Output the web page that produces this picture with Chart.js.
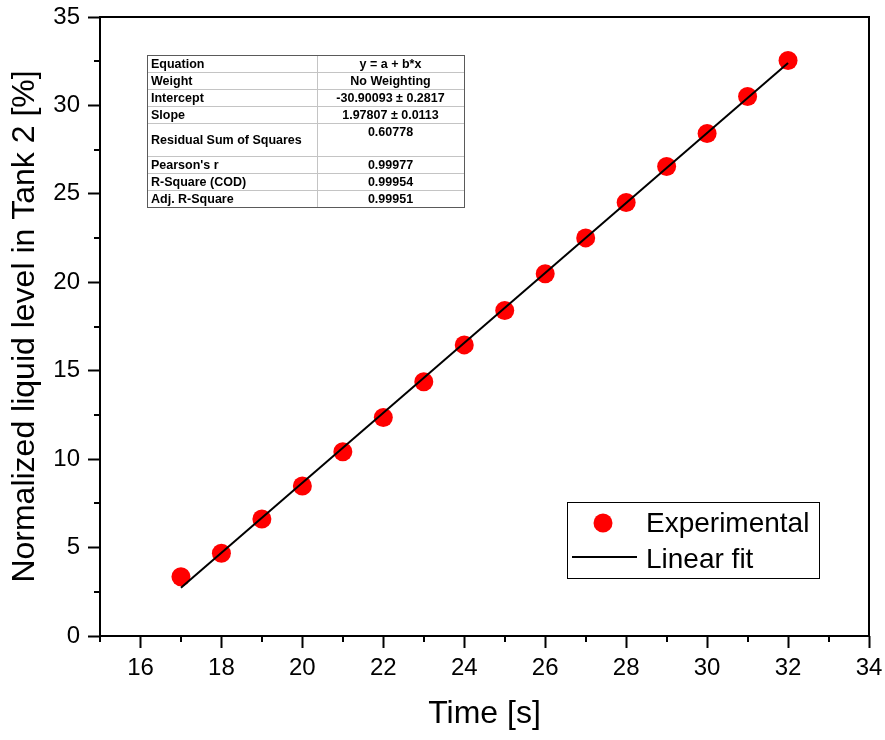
<!DOCTYPE html>
<html>
<head>
<meta charset="utf-8">
<script src="https://cdn.jsdelivr.net/npm/chart.js@4/dist/chart.umd.min.js"></script>
<style>
  html, body { margin: 0; padding: 0; background: #fff; }
  canvas { display: block; }
</style>
</head>
<body>
<canvas id="c" width="885" height="740"></canvas>
<script>
// Measured tank level over time
const timeS = [17, 18, 19, 20, 21, 22, 23, 24, 25, 26, 27, 28, 29, 30, 31, 32];
const levelPct = [3.35, 4.68, 6.62, 8.48, 10.42, 12.35, 14.38, 16.46, 18.40, 20.48, 22.51, 24.51, 26.55, 28.41, 30.50, 32.54];

// Linear fit result (y = a + b*x) and the span it is drawn over
const fitIntercept = -30.90093;
const fitSlope = 1.97807;
const fitRange = [17, 32];

// Axis ticks
const xMajorTicks = [16, 18, 20, 22, 24, 26, 28, 30, 32, 34];
const xMinorTicks = [15, 17, 19, 21, 23, 25, 27, 29, 31, 33];
const yMajorTicks = [0, 5, 10, 15, 20, 25, 30, 35];
const yMinorTicks = [2.5, 7.5, 12.5, 17.5, 22.5, 27.5, 32.5];

// Fit statistics table
const statNames = ['Equation', 'Weight', 'Intercept', 'Slope', 'Residual Sum of Squares',
                   "Pearson's r", 'R-Square (COD)', 'Adj. R-Square'];
const statValues = ['y = a + b*x', 'No Weighting', '-30.90093 \u00b1 0.2817', '1.97807 \u00b1 0.0113',
                    '0.60778', '0.99977', '0.99954', '0.99951'];

const FONT = "'Liberation Sans', Arial, Helvetica, sans-serif";

// keep the plot area exactly where the layout padding puts it
const noScalePadding = s => { s.paddingLeft = 0; s.paddingRight = 0; s.paddingTop = 0; s.paddingBottom = 0; };

const decorations = {
  id: 'decorations',
  afterDraw(chart) {
    const { ctx, chartArea: a, scales: { x, y } } = chart;
    ctx.save();

    // minor ticks
    ctx.strokeStyle = '#000';
    ctx.lineWidth = 2;
    ctx.beginPath();
    xMinorTicks.forEach(v => {
      const px = Math.round(x.getPixelForValue(v));
      ctx.moveTo(px, a.bottom); ctx.lineTo(px, a.bottom + 6);
    });
    yMinorTicks.forEach(v => {
      const py = Math.round(y.getPixelForValue(v));
      ctx.moveTo(a.left, py); ctx.lineTo(a.left - 6, py);
    });
    ctx.stroke();

    // plot frame
    ctx.strokeRect(a.left, a.top, a.right - a.left, a.bottom - a.top);

    // statistics table
    const tx = a.left + 47, ty = a.top + 38, tw = 317, colX = tx + 170;
    const rowH = statNames.map(n => n.startsWith('Residual') ? 33 : 17);
    const th = rowH.reduce((s, h) => s + h, 0);
    ctx.fillStyle = '#fff';
    ctx.fillRect(tx, ty, tw, th);
    ctx.lineWidth = 1;
    ctx.strokeStyle = '#c4c4c4';
    ctx.beginPath();
    let yy = ty;
    rowH.forEach((h, i) => {
      if (i > 0) { ctx.moveTo(tx, Math.round(yy) + 0.5); ctx.lineTo(tx + tw, Math.round(yy) + 0.5); }
      yy += h;
    });
    ctx.moveTo(colX + 0.5, ty); ctx.lineTo(colX + 0.5, ty + th);
    ctx.stroke();
    ctx.strokeStyle = '#5a5a5a';
    ctx.strokeRect(tx + 0.5, ty + 0.5, tw, th);

    ctx.fillStyle = '#000';
    ctx.font = `bold 12.5px ${FONT}`;
    ctx.textBaseline = 'middle';
    yy = ty;
    rowH.forEach((h, i) => {
      ctx.textAlign = 'left';
      ctx.fillText(statNames[i], tx + 4, yy + h / 2 + 1);
      ctx.textAlign = 'center';
      ctx.fillText(statValues[i], (colX + tx + tw) / 2, yy + 9.5);
      yy += h;
    });

    // legend
    const lx = a.right - 302, ly = a.bottom - 134, lw = 252, lh = 76;
    ctx.fillStyle = '#fff';
    ctx.fillRect(lx, ly, lw, lh);
    ctx.strokeStyle = '#000';
    ctx.lineWidth = 1;
    ctx.strokeRect(lx + 0.5, ly + 0.5, lw, lh);

    const [pts, fit] = chart.data.datasets;
    ctx.fillStyle = pts.backgroundColor;
    ctx.beginPath();
    ctx.arc(lx + 36, ly + 21, 9.5, 0, Math.PI * 2);
    ctx.fill();
    ctx.strokeStyle = fit.borderColor;
    ctx.lineWidth = 2;
    ctx.beginPath();
    ctx.moveTo(lx + 5, ly + 55); ctx.lineTo(lx + 70, ly + 55);
    ctx.stroke();

    ctx.fillStyle = '#000';
    ctx.font = `28px ${FONT}`;
    ctx.textAlign = 'left';
    ctx.textBaseline = 'alphabetic';
    ctx.fillText(pts.label, lx + 79, ly + 30);
    ctx.fillText(fit.label, lx + 79, ly + 66);

    ctx.restore();
  }
};

new Chart(document.getElementById('c'), {
  type: 'scatter',
  data: {
    datasets: [
      {
        label: 'Experimental',
        data: timeS.map((t, i) => ({ x: t, y: levelPct[i] })),
        backgroundColor: '#ff0000',
        borderWidth: 0,
        pointRadius: 9.5,
        pointHoverRadius: 9.5,
        showLine: false,
        order: 2
      },
      {
        label: 'Linear fit',
        type: 'line',
        data: fitRange.map(t => ({ x: t, y: fitIntercept + fitSlope * t })),
        borderColor: '#000000',
        borderWidth: 2,
        pointRadius: 0,
        fill: false,
        order: 1
      }
    ]
  },
  options: {
    responsive: false,
    animation: false,
    events: [],
    layout: { padding: { top: 17, right: 16, left: 0, bottom: 0 } },
    plugins: { legend: { display: false }, tooltip: { enabled: false } },
    scales: {
      x: {
        type: 'linear',
        min: 15, max: 34,
        afterBuildTicks: s => { s.ticks = xMajorTicks.map(v => ({ value: v })); },
        afterFit: s => { s.height = 104; noScalePadding(s); },
        grid: { drawOnChartArea: false, drawTicks: true, tickLength: 12, tickColor: '#000', tickWidth: 2 },
        border: { display: false },
        ticks: { color: '#000', font: { family: FONT, size: 24 }, padding: 6, maxRotation: 0 },
        title: { display: true, text: 'Time [s]', color: '#000', font: { family: FONT, size: 32 }, padding: { top: 0, bottom: 7 } }
      },
      y: {
        type: 'linear',
        min: 0, max: 35,
        afterBuildTicks: s => { s.ticks = yMajorTicks.map(v => ({ value: v })); },
        afterFit: s => { s.width = 100; noScalePadding(s); },
        grid: { drawOnChartArea: false, drawTicks: true, tickLength: 12, tickColor: '#000', tickWidth: 2 },
        border: { display: false },
        ticks: { color: '#000', font: { family: FONT, size: 24 }, padding: 8 },
        title: { display: true, text: 'Normalized liquid level in Tank 2 [%]', color: '#000', font: { family: FONT, size: 32 }, padding: { top: 6, bottom: 0 } }
      }
    }
  },
  plugins: [decorations]
});
</script>
</body>
</html>
